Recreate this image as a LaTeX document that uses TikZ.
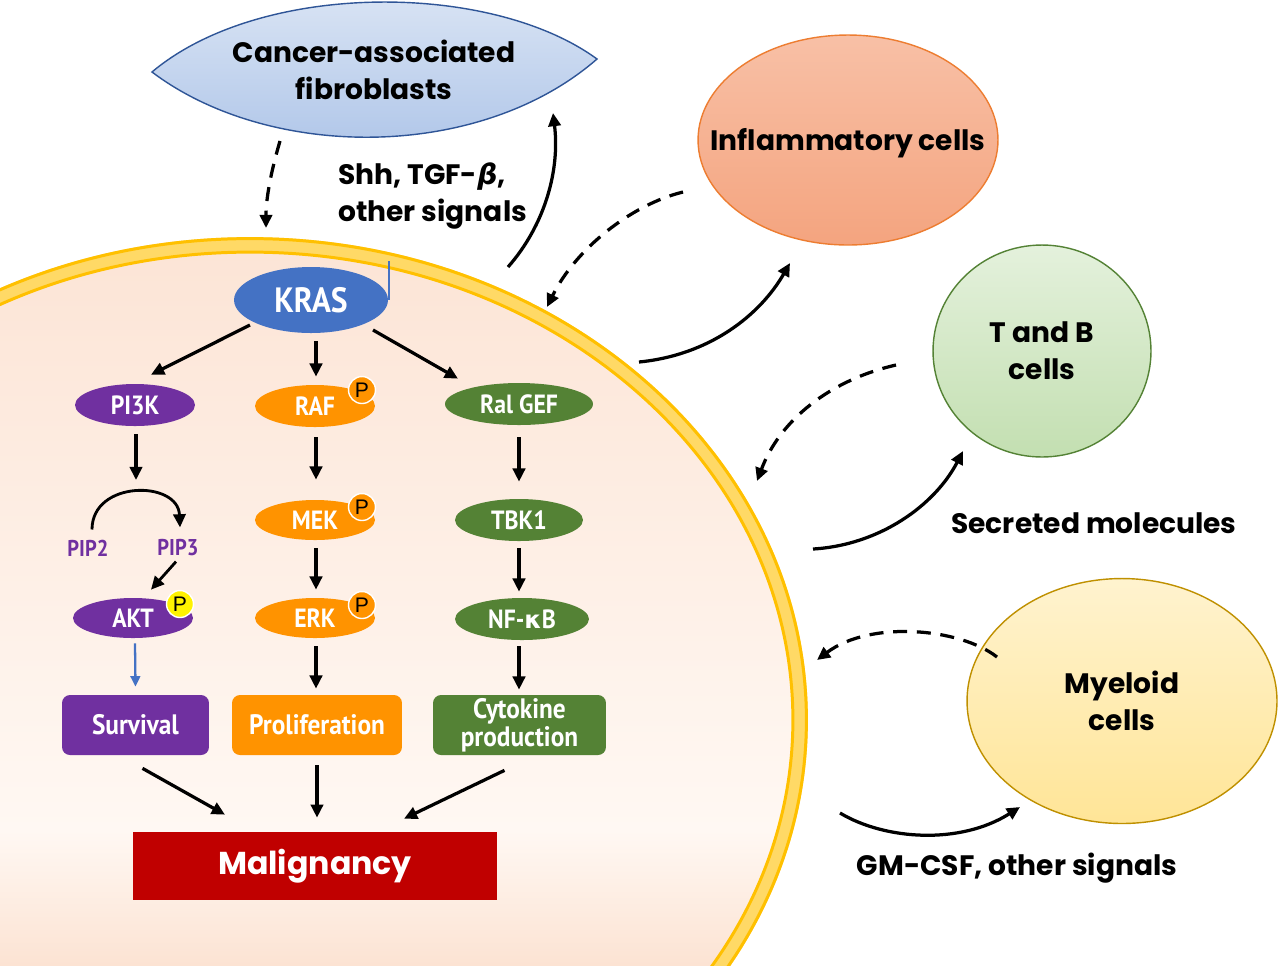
\documentclass[tikz,border=0pt]{standalone}
\usepackage{fontspec}
\setmainfont{Poppins}
\newfontfamily\cond{PT Sans}[FakeStretch=0.9]
\newfontfamily\pfont{Liberation Sans}
\newfontfamily\dejavu{DejaVu Sans}
\usetikzlibrary{arrows.meta,shapes.geometric,calc}
\definecolor{kblue}{HTML}{4472C4}
\definecolor{kpurple}{HTML}{7030A0}
\definecolor{korange}{HTML}{FF9300}
\definecolor{kgreen}{HTML}{548235}
\definecolor{kred}{HTML}{C00000}
\definecolor{memgold}{HTML}{FFC000}
\definecolor{memlight}{HTML}{FFD966}
\definecolor{cellA}{HTML}{FCE4D5}
\definecolor{cellB}{HTML}{FDF0E7}
\definecolor{cellC}{HTML}{FFF8F3}
\definecolor{cellD}{HTML}{FCE3D3}
\definecolor{cafA}{HTML}{DCE6F5}
\definecolor{cafB}{HTML}{ADC4E8}
\definecolor{cafL}{HTML}{2F5597}
\definecolor{infA}{HTML}{F8C0A6}
\definecolor{infB}{HTML}{F4A47F}
\definecolor{infL}{HTML}{ED7D31}
\definecolor{tbA}{HTML}{E4F1DC}
\definecolor{tbB}{HTML}{C3DFB1}
\definecolor{tbL}{HTML}{548235}
\definecolor{myA}{HTML}{FFF3CF}
\definecolor{myB}{HTML}{FFE597}
\definecolor{myL}{HTML}{BF9000}
\begin{document}
\begin{tikzpicture}[x=0.02cm,y=-0.02cm,
  lbl/.style={font=\fontsize{16}{21}\selectfont\bfseries, align=center, text=black, inner sep=0},
  prot/.style={ellipse, inner sep=0, text=white, font=\fontsize{15}{17}\cond\bfseries},
  outbox/.style={rounded corners=0.16cm, inner sep=0, text=white, align=center,
     font=\fontsize{16}{17}\cond\bfseries, minimum height=1.2cm},
  pbadge/.style={circle, minimum size=0.54cm, inner sep=0, draw=white, line width=0.8pt,
     font=\fontsize{12}{12}\pfont, text=black},
  cellshape/.style={ellipse, inner sep=0, line width=0.8pt},
  arr/.style={line width=1.85pt, -{Triangle[length=7.5pt,width=7pt]}},
  darr/.style={arr, dash pattern=on 8pt off 5.5pt},
  thinarr/.style={line width=1.3pt, -{Triangle[length=6pt,width=5.5pt]}}
]
\useasboundingbox (0,0) rectangle (1280,965);
\fill[white] (0,0) rectangle (1280,965);

% ---- tumour cell ----
\begin{scope}
\clip (0,0) rectangle (1280,965);
\fill[memlight] (250,720) ellipse [x radius=11.16cm, y radius=9.66cm];
\draw[memgold, line width=1.7pt] (250,720) ellipse [x radius=11.13cm, y radius=9.63cm];
\begin{scope}
\clip (250,720) ellipse [x radius=10.86cm, y radius=9.36cm];
\shade[top color=cellA, middle color=cellB, bottom color=cellC] (0,230) rectangle (820,831);
\shade[top color=cellC, bottom color=cellD] (0,830) rectangle (820,965);
\end{scope}
\draw[memgold, line width=1.7pt] (250,720) ellipse [x radius=10.86cm, y radius=9.36cm];
\end{scope}

% ---- cancer-associated fibroblasts ----
\path[draw=cafL, line width=0.8pt, top color=cafA, bottom color=cafB]
  (152,72) .. controls (260,-19) and (490,-19) .. (597,59)
           .. controls (480,161) and (270,161) .. (152,72) -- cycle;
\node[lbl] (caf) at (374,70) {Cancer-associated\\fibroblasts};

% ---- outer cells ----
\node[cellshape, draw=infL, top color=infA, bottom color=infB,
      minimum width=6cm, minimum height=4.2cm] (inflcell) at (848,140) {};
\node[lbl] (infl) at (848,143) {Inflammatory cells};
\node[cellshape, draw=tbL, top color=tbA, bottom color=tbB,
      minimum width=4.36cm, minimum height=4.24cm, lbl] (tb) at (1042,351) {T and B\\cells};
\node[cellshape, draw=myL, top color=myA, bottom color=myB,
      minimum width=6.2cm, minimum height=4.9cm, lbl] (my) at (1122,701) {Myeloid\\cells};

% ---- labels ----
\node[lbl, align=left, anchor=west] (shh) at (338,196) {Shh, TGF-{\dejavu\bfseries\itshape β},\\other signals};
\node[lbl] (sec) at (1094,523) {Secreted molecules};
\node[lbl] (gm) at (1017,868) {GM-CSF, other signals};

% ---- signalling nodes ----
\draw[kblue, line width=1.3pt] (389,261) -- (389,300);
\node[prot, fill=kblue, minimum width=3.08cm, minimum height=1.32cm,
      font=\fontsize{20}{22}\cond\bfseries] (kras) at (311,300) {KRAS};
\node[prot, fill=kpurple, minimum width=2.4cm, minimum height=0.84cm] (pi3k) at (135,405) {PI3K};
\node[prot, fill=korange, minimum width=2.4cm, minimum height=0.84cm] (raf) at (315,406) {RAF};
\node[prot, fill=kgreen, minimum width=2.96cm, minimum height=0.84cm] (ral) at (519,404) {Ral GEF};
\node[prot, fill=korange, minimum width=2.4cm, minimum height=0.8cm] (mek) at (315,520) {MEK};
\node[prot, fill=korange, minimum width=2.4cm, minimum height=0.8cm] (erk) at (315,618) {ERK};
\node[prot, fill=kgreen, minimum width=2.56cm, minimum height=0.84cm] (tbk) at (519,520) {TBK1};
\node[prot, fill=kgreen, minimum width=2.68cm, minimum height=0.84cm] (nfkb) at (522,619) {NF-{\dejavu\bfseries\fontsize{14}{16}\selectfont κ}B};
\node[prot, fill=kpurple, minimum width=2.4cm, minimum height=0.8cm] (akt) at (133,618) {AKT};

\node[pbadge, fill=korange] (praf) at (362,390) {P};
\node[pbadge, fill=korange] (pmek) at (362,507) {P};
\node[pbadge, fill=korange] (perk) at (362,605) {P};
\node[pbadge, fill=yellow] (pakt) at (180,604) {P};

\node[text=kpurple, font=\fontsize{13}{14}\cond\bfseries, inner sep=0] (pip2) at (88,548) {PIP2};
\node[text=kpurple, font=\fontsize{13}{14}\cond\bfseries, inner sep=0] (pip3) at (178,548) {PIP3};

\node[outbox, fill=kpurple, minimum width=2.94cm] (surv) at (135.5,725) {Survival};
\node[outbox, fill=korange, minimum width=3.4cm] (prol) at (317,725) {Proliferation};
\node[outbox, fill=kgreen, minimum width=3.46cm] (cyto) at (519.5,725) {Cytokine\\[-1pt]production};
\node[fill=kred, text=white, inner sep=0, minimum width=7.28cm, minimum height=1.36cm,
      font=\fontsize{18}{20}\selectfont\bfseries] (malig) at (315,866) {Malignancy};

% ---- intracellular arrows ----
\draw[arr] ($(kras.center)+(-61,25)$) -- ($(pi3k.north)+(16,-9)$);
\draw[arr] ($(kras.south)+(5,8)$) -- ($(raf.north)+(1,-8)$);
\draw[arr] ($(kras.center)+(62,30)$) -- ($(ral.north)+(-61,-4)$);

\coordinate (pipin) at (136,480);
\draw[arr] ($(pi3k.south)+(1,8)$) -- (pipin);
\draw[arr, line width=1.6pt] ($(pip2.north)+(4,-10)$) .. controls (92,480) and (178,480) .. ($(pip3.north)+(2,-12)$);
\draw[arr, line width=1.6pt] ($(pip3.south)+(-2,5)$) -- ($(akt.north)+(18,-8)$);
\draw[thinarr, kblue] ($(akt.south)+(2,5)$) -- ($(surv.north)+(0,-8)$);

\draw[arr] ($(raf.south)+(1,10)$) -- ($(mek.north)+(1,-20)$);
\draw[arr] ($(mek.south)+(1,8)$) -- ($(erk.north)+(1,-8)$);
\draw[arr] ($(erk.south)+(1,8)$) -- ($(prol.north)+(-1,-6)$);

\draw[arr] ($(ral.south)+(0,12)$) -- ($(tbk.north)+(0,-17)$);
\draw[arr] ($(tbk.south)+(0,7)$) -- ($(nfkb.north)+(-3,-6)$);
\draw[arr] ($(nfkb.south)+(-3,6)$) -- ($(cyto.north)+(-0.5,-5)$);

\draw[arr] ($(surv.south)+(7,13)$) -- ($(malig.north)+(-90,-17)$);
\draw[arr] ($(prol.south)+(0,10)$) -- ($(malig.north)+(2,-14)$);
\draw[arr] ($(cyto.south)+(-15,15)$) -- ($(malig.north)+(89,-13)$);

% ---- extracellular arrows ----
\coordinate (c1s) at (280,141);  \coordinate (c1e) at (266,228);
\draw[darr] (c1s) .. controls (270,175) and (266,200) .. (c1e);
\coordinate (c2s) at (508,267);  \coordinate (c2e) at (553,113);
\draw[arr] (c2s) .. controls (545,225) and (560,170) .. (c2e);

\coordinate (i1s) at (683,192);  \coordinate (i1e) at (547,307);
\draw[darr] (i1s) .. controls (630,205) and (575,250) .. (i1e);
\coordinate (i2s) at (639,362);  \coordinate (i2e) at (790,263);
\draw[arr] (i2s) .. controls (710,355) and (760,315) .. (i2e);

\coordinate (t1s) at (896,365);  \coordinate (t1e) at (757,481);
\draw[darr] (t1s) .. controls (830,380) and (780,420) .. (t1e);
\coordinate (t2s) at (813,549);  \coordinate (t2e) at (963,451);
\draw[arr] (t2s) .. controls (880,545) and (935,505) .. (t2e);

\coordinate (m1s) at (997,657);  \coordinate (m1e) at (817,660);
\draw[darr] (m1s) .. controls (960,628) and (870,620) .. (m1e);
\coordinate (m2s) at (840,813);  \coordinate (m2e) at (1020,807);
\draw[arr] (m2s) .. controls (885,840) and (960,845) .. (m2e);
\end{tikzpicture}
\end{document}
